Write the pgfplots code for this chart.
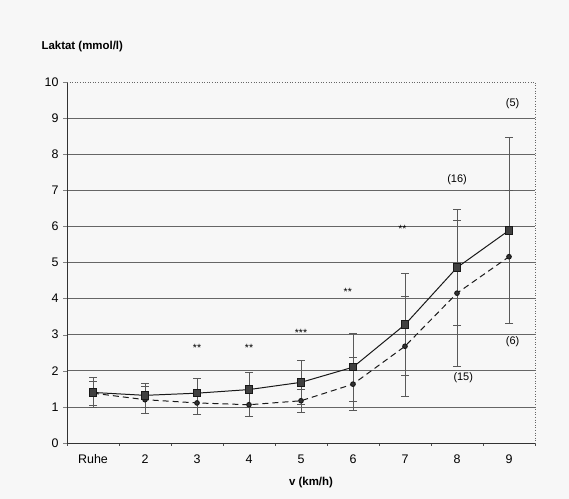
\documentclass[border=0pt]{standalone}
\usepackage{fontspec}
\setmainfont{Liberation Sans}
\usepackage{pgfplots}
\pgfplotsset{compat=1.18}
\begin{document}
\begin{tikzpicture}[x=1bp,y=1bp]
\fill[gray!6] (0,0) rectangle (569,499);
\path[use as bounding box] (0,0) rectangle (569,499);
\node[anchor=west, font=\fontsize{11.5}{13}\selectfont\bfseries] at (38,452) {Laktat (mmol/l)};
\node[font=\fontsize{11.5}{13}\selectfont\bfseries] at (311,16) {v (km/h)};
\begin{axis}[
  at={(67bp,56bp)}, anchor=south west,
  width=468bp, height=361bp, scale only axis,
  xmin=-0.5, xmax=8.5, ymin=0, ymax=10,
  axis x line*=bottom, axis y line*=left,
  axis line style={black!80, line width=0.6pt},
  xtick={0,...,8}, xticklabels={Ruhe,2,3,4,5,6,7,8,9},
  major x tick style={draw=none},
  minor xtick={-0.5,0.5,...,8.5},
  minor x tick style={black!70, line width=0.5pt},
  minor tick length=3bp, major tick length=4bp,
  tick align=outside,
  ytick={0,...,9}, extra y ticks={10},
  extra y tick style={ymajorgrids=false},
  ymajorgrids, grid style={black!60, line width=0.6pt},
  tick label style={font=\fontsize{12.5}{14}\selectfont},
  xticklabel style={yshift=-4bp},
  yticklabel style={xshift=-1bp},
  /pgf/number format/assume math mode=true,
  clip=false,
]
\draw[black!60, dotted, line width=0.6pt] (rel axis cs:0,1) -- (rel axis cs:1,1) -- (rel axis cs:1,0);
\addplot[black!90, dashed, dash pattern=on 6bp off 4bp, line width=1pt, mark=*, mark size=2.3bp, mark options={solid, fill=black!80},
  error bars/.cd, y dir=both, y explicit,
  error bar style={black!65, line width=0.6pt, solid},
  error mark options={rotate=90, black!65, line width=0.6pt, mark size=4bp, solid}]
coordinates {
(0,1.38) +- (0,0.33)
(1,1.20) +- (0,0.37)
(2,1.11) +- (0,0.32)
(3,1.06) +- (0,0.31)
(4,1.17) +- (0,0.33)
(5,1.63) +- (0,0.73)
(6,2.68) +- (0,1.39)
(7,4.15) +- (0,2.03)
(8,5.16) +- (0,1.84)
};
\addplot[black!90, line width=1pt, mark=square*, mark size=3.7bp, mark options={solid, fill=black!75},
  error bars/.cd, y dir=both, y explicit,
  error bar style={black!65, line width=0.6pt},
  error mark options={rotate=90, black!65, line width=0.6pt, mark size=4bp}]
coordinates {
(0,1.40) +- (0,0.41)
(1,1.32) +- (0,0.32)
(2,1.38) +- (0,0.40)
(3,1.48) +- (0,0.48)
(4,1.68) +- (0,0.60)
(5,2.10) +- (0,0.95)
(6,3.28) +- (0,1.41)
(7,4.86) +- (0,1.60)
(8,5.89) +- (0,2.57)
};
\begin{scope}[every node/.style={font=\fontsize{10.5}{11}\selectfont}]
\node at (axis cs:2,2.64) {**};
\node at (axis cs:3,2.64) {**};
\node at (axis cs:4,3.05) {***};
\node at (axis cs:4.9,4.19) {**};
\node at (axis cs:5.95,5.94) {**};
\end{scope}
\begin{scope}[every node/.style={font=\fontsize{11}{12}\selectfont}]
\node at (axis cs:7,7.29) {(16)};
\node at (axis cs:7.12,1.80) {(15)};
\node at (axis cs:8.07,9.40) {(5)};
\node at (axis cs:8.07,2.80) {(6)};
\end{scope}
\end{axis}
\end{tikzpicture}
\end{document}
